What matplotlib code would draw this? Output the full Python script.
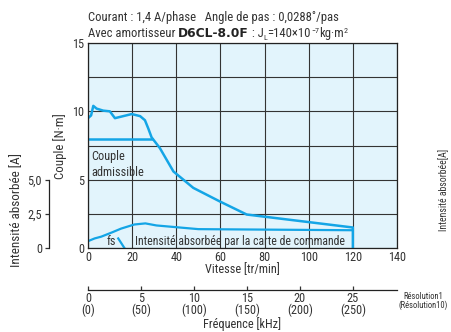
import matplotlib
matplotlib.use("Agg")
import matplotlib.pyplot as plt

# ---------------- data ----------------
speed_pullout = [0, 1.4, 2.4, 3.9, 6.9, 9.9, 12.2, 19.8, 23.6, 25.8, 27.3, 28.8, 32.6, 38.7, 47.7, 59.8, 71.9, 120, 120]
torque_pullout = [9.5, 9.7, 10.4, 10.2, 10.05, 10.0, 9.5, 9.8, 9.65, 9.35, 8.75, 8.1, 7.3, 5.6, 4.4, 3.4, 2.45, 1.5, 0]

speed_admissible = [0, 29]
torque_admissible = [8.0, 8.0]

speed_current = [0, 3, 6, 11, 15, 21, 26, 31, 50, 120]
current_values = [0.5, 0.7, 0.83, 1.15, 1.42, 1.72, 1.8, 1.65, 1.38, 1.3]

speed_fs = [13.7, 16.5]
current_fs = [0.7, 0.0]

speed_ticks = [0, 20, 40, 60, 80, 100, 120, 140]
torque_ticks = [0, 5, 10, 15]
current_ticks = [0, 2.5, 5.0]
current_tick_labels = ["0", "2,5", "5,0"]
freq_ticks = [0, 5, 10, 15, 20, 25]
freq_tick_labels = ["0\n(0)", "5\n(50)", "10\n(100)", "15\n(150)", "20\n(200)", "25\n(250)"]

# ---------------- style ----------------
FONT = ["Roboto Condensed", "DejaVu Sans"]
plt.rcParams["font.family"] = FONT
TXT = "#333333"
BLUE = "#14a5e6"
BG = "#e2f4fc"
GRID = "#333333"
FS = 8.8

W, H = 452, 332
fig = plt.figure(figsize=(W / 100, H / 100), dpi=100)

def px(x0, y0, x1, y1):
    return [x0 / W, 1 - y1 / H, (x1 - x0) / W, (y1 - y0) / H]

rect = px(88, 43, 397, 248)
ax = fig.add_axes(rect)
ax.set_facecolor(BG)
ax.set_xlim(0, 140)
ax.set_ylim(0, 15)
ax.set_xticks(speed_ticks)
ax.set_yticks(torque_ticks)
ax.set_yticks([2.5, 7.5, 12.5], minor=True)
ax.grid(True, which="both", color=GRID, lw=0.8)
ax.set_axisbelow(True)
ax.tick_params(which="both", length=0, labelsize=FS, colors=TXT, pad=2.5)
for s in ax.spines.values():
    s.set_color("#222222")
    s.set_linewidth(0.9)

ax.plot(speed_pullout, torque_pullout, color=BLUE, lw=1.8, solid_joinstyle="round")
ax.plot(speed_admissible, torque_admissible, color=BLUE, lw=1.8)
ax.plot(speed_current, current_values, color=BLUE, lw=1.6)
ax.plot(speed_fs, current_fs, color=BLUE, lw=1.6)

ax.text(1.5, 6.66, "Couple", fontsize=FS, color=TXT, va="center", ha="left")
ax.text(1.5, 5.56, "admissible", fontsize=FS, color=TXT, va="center", ha="left")
ax.text(10.7, 0.46, "fs", fontsize=FS, color=TXT, va="center", ha="center")
ax.text(21.3, 0.5, "Intensité absorbée par la carte de commande", fontsize=8.5,
        color=TXT, va="center", ha="left")

# secondary left axis (current)
ax2 = fig.add_axes(rect)
ax2.patch.set_visible(False)
ax2.set_ylim(0, 15)
ax2.set_xlim(0, 1)
for k in ["top", "right", "bottom"]:
    ax2.spines[k].set_visible(False)
ax2.spines["left"].set_position(("outward", 39 * 0.72))
ax2.spines["left"].set_bounds(0, 5)
ax2.spines["left"].set_color("#222222")
ax2.spines["left"].set_linewidth(0.9)
ax2.set_xticks([])
ax2.set_yticks(current_ticks)
ax2.set_yticklabels(current_tick_labels)
ax2.tick_params(axis="y", length=3, width=0.9, labelsize=FS, colors=TXT, pad=2)

# secondary bottom axis (frequency): 25 kHz <-> 120 tr/min
ax3 = fig.add_axes(rect)
ax3.patch.set_visible(False)
ax3.set_xlim(0, 140 * 25 / 120)
ax3.set_ylim(0, 1)
for k in ["top", "right", "left"]:
    ax3.spines[k].set_visible(False)
ax3.spines["bottom"].set_position(("outward", 42 * 0.72))
ax3.spines["bottom"].set_color("#222222")
ax3.spines["bottom"].set_linewidth(0.9)
ax3.set_yticks([])
ax3.set_xticks(freq_ticks)
ax3.set_xticklabels(freq_tick_labels, linespacing=0.88)
ax3.tick_params(axis="x", direction="in", length=3, width=0.9, labelsize=FS,
                colors=TXT, pad=1.5)

# labels
fig.text(242 / W, 1 - 270 / H, "Vitesse [tr/min]", ha="center", va="center",
         fontsize=FS, color=TXT)
fig.text(242 / W, 1 - 324 / H, "Fréquence [kHz]", ha="center", va="center",
         fontsize=FS, color=TXT)
fig.text(60 / W, 1 - 146 / H, "Couple [N·m]", rotation=90, ha="center", va="center",
         fontsize=9.3, color=TXT)
fig.text(17 / W, 1 - 210 / H, "Intensité absorbée [A]", rotation=90, ha="center",
         va="center", fontsize=9.5, color=TXT)
fig.text(444 / W, 1 - 190 / H, "Intensité absorbée[A]", rotation=90, ha="center",
         va="center", fontsize=7, color=TXT)
fig.text(423 / W, 1 - 301 / H, "Résolution1\n(Résolution10)", ha="center",
         va="center", fontsize=6.2, color=TXT, linespacing=1.0)

# header
fig.text(88 / W, 1 - 17 / H, "Courant : 1,4 A/phase   Angle de pas : 0,0288˚/pas",
         ha="left", va="center", fontsize=9.1, color=TXT)
t1 = fig.text(88 / W, 1 - 37 / H, "Avec amortisseur ", ha="left", va="baseline",
              fontsize=9.1, color=TXT)
a2 = fig.add_artist(plt.Annotation("D6CL-8.0F", xy=(1, 0), xycoords=t1, va="bottom",
                                   ha="left", fontsize=8.8, fontweight="bold",
                                   color="#222222", family=["DejaVu Sans"]))
a3 = fig.add_artist(plt.Annotation(" : J", xy=(1, 0), xycoords=a2, va="bottom",
                                   ha="left", fontsize=9.1, color=TXT))
a4 = fig.add_artist(plt.Annotation("L", xy=(1, 0), xycoords=a3, va="bottom",
                                   ha="left", fontsize=5.8, color=TXT,
                                   xytext=(0, -0.5), textcoords="offset points"))
a5 = fig.add_artist(plt.Annotation("=140×10", xy=(1, 0), xycoords=a4, va="bottom",
                                   ha="left", fontsize=9.1, color=TXT,
                                   xytext=(0, 0.5), textcoords="offset points"))
a6 = fig.add_artist(plt.Annotation("−7", xy=(1, 0), xycoords=a5, va="bottom",
                                   ha="left", fontsize=5.8, color=TXT,
                                   xytext=(0, 4), textcoords="offset points"))
a7 = fig.add_artist(plt.Annotation("kg·m", xy=(1, 0), xycoords=a6, va="bottom",
                                   ha="left", fontsize=9.1, color=TXT,
                                   xytext=(0, -4), textcoords="offset points"))
a8 = fig.add_artist(plt.Annotation("2", xy=(1, 0), xycoords=a7, va="bottom",
                                   ha="left", fontsize=5.8, color=TXT,
                                   xytext=(0, 4), textcoords="offset points"))

fig.savefig("out.png", dpi=100)
